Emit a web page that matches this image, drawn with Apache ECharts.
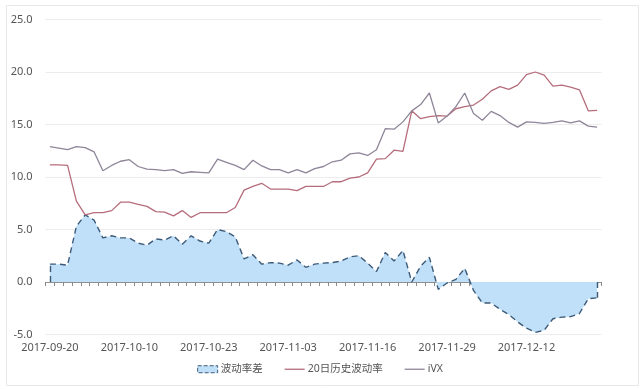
<!DOCTYPE html>
<html>
<head>
<meta charset="utf-8">
<script src="https://cdn.jsdelivr.net/npm/echarts@6/dist/echarts.min.js"></script>
<style>
html,body{margin:0;padding:0;background:#fff;}
#c{width:640px;height:389px;}
</style>
</head>
<body>
<div id="c"></div>
<script>
var dates = ['2017-09-20','2017-09-21','2017-09-22','2017-09-25','2017-09-26','2017-09-27','2017-09-28','2017-09-29',
'2017-10-09','2017-10-10','2017-10-11','2017-10-12','2017-10-13','2017-10-16','2017-10-17','2017-10-18','2017-10-19','2017-10-20','2017-10-23','2017-10-24','2017-10-25','2017-10-26','2017-10-27','2017-10-30','2017-10-31',
'2017-11-01','2017-11-02','2017-11-03','2017-11-06','2017-11-07','2017-11-08','2017-11-09','2017-11-10','2017-11-13','2017-11-14','2017-11-15','2017-11-16','2017-11-17','2017-11-20','2017-11-21','2017-11-22','2017-11-23','2017-11-24','2017-11-27','2017-11-28','2017-11-29','2017-11-30',
'2017-12-01','2017-12-04','2017-12-05','2017-12-06','2017-12-07','2017-12-08','2017-12-11','2017-12-12','2017-12-13','2017-12-14','2017-12-15','2017-12-18','2017-12-19','2017-12-20','2017-12-21','2017-12-22'];

var spreadVals = [1.7,1.7,1.6,5.3,6.4,5.9,4.2,4.4,4.2,4.2,3.7,3.5,4.1,4.0,4.4,3.6,4.4,3.9,3.7,5.0,4.8,4.3,2.2,2.6,1.7,1.85,1.8,1.6,2.1,1.4,1.7,1.8,1.85,2.0,2.4,2.5,1.8,1.0,2.8,2.0,3.0,0.0,1.5,2.35,-0.7,-0.1,0.25,1.3,-0.8,-2.0,-2.0,-2.6,-3.1,-3.8,-4.4,-4.8,-4.6,-3.5,-3.35,-3.3,-3.0,-1.6,-1.5];

var hv20Vals = [11.15,11.15,11.1,7.7,6.4,6.6,6.6,6.8,7.6,7.6,7.4,7.2,6.7,6.65,6.3,6.8,6.15,6.6,6.6,6.6,6.6,7.1,8.75,9.1,9.4,8.85,8.85,8.85,8.7,9.1,9.1,9.1,9.55,9.55,9.9,10.0,10.4,11.7,11.75,12.55,12.45,16.3,15.55,15.75,15.85,15.8,16.5,16.7,16.85,17.4,18.2,18.6,18.35,18.75,19.75,20.0,19.7,18.65,18.75,18.55,18.3,16.3,16.35];

var ivxVals = [12.9,12.75,12.6,12.9,12.8,12.4,10.6,11.1,11.5,11.65,11.0,10.75,10.7,10.6,10.7,10.35,10.5,10.45,10.4,11.7,11.4,11.1,10.7,11.6,11.05,10.7,10.7,10.4,10.7,10.4,10.8,11.0,11.45,11.6,12.2,12.3,12.05,12.6,14.6,14.55,15.25,16.3,16.9,18.0,15.15,15.8,16.7,18.0,16.05,15.4,16.25,15.85,15.2,14.75,15.25,15.2,15.1,15.2,15.35,15.15,15.35,14.85,14.75];

var seriesNames = ['波动率差','20日历史波动率','iVX'];
var yMin = -5, yMax = 25, yStep = 5;

var FONT = '"Noto Sans","Liberation Sans",Arial,"Noto Sans CJK SC",sans-serif';
var dashColor = '#3d5a78';
var areaColor = '#bfe0f8';
var hvColor = '#b56d7b';
var ivxColor = '#8e8598';
var lineIcon = 'path://M0,0H20V1.3H0Z';

var chart = echarts.init(document.getElementById('c'), null, {renderer:'canvas'});
var last = dates.length - 1;

chart.setOption({
  animation: false,
  backgroundColor: '#ffffff',
  graphic: [{
    type: 'rect', left: 4, top: 3, silent: true,
    shape: {width: 632, height: 380},
    style: {fill: 'none', stroke: '#e8e8e8', lineWidth: 1}
  }],
  grid: {left: 45.5, right: 38.5, top: 19.5, bottom: 54.5, containLabel: false},
  legend: {
    left: 'center', top: 359,
    itemWidth: 20, itemHeight: 7, itemGap: 22,
    textStyle: {fontSize: 10.5, color: '#555', fontFamily: FONT, padding: [0,0,0,-2]},
    data: [
      {name: seriesNames[0], icon: 'rect', itemStyle: {color: areaColor, borderColor: dashColor, borderWidth: 1, borderType: 'dashed'}},
      {name: seriesNames[1], icon: lineIcon, itemStyle: {color: hvColor}},
      {name: seriesNames[2], icon: lineIcon, itemStyle: {color: ivxColor}}
    ]
  },
  xAxis: {
    type: 'category', data: dates, boundaryGap: true,
    axisLine: {onZero: true, lineStyle: {color: '#909090', width: 1}},
    axisTick: {show: true, interval: 0, length: 4, lineStyle: {color: '#888'}},
    axisLabel: {interval: 8, color: '#555', fontSize: 11, fontFamily: FONT, margin: 8},
    splitLine: {show: false}
  },
  yAxis: {
    type: 'value', min: yMin, max: yMax, interval: yStep,
    axisLine: {show: false}, axisTick: {show: false},
    axisLabel: {color: '#555', fontSize: 11, fontFamily: FONT, margin: 13,
      formatter: function (v) { return v.toFixed(1); }},
    splitLine: {lineStyle: {color: '#ececec', width: 1}}
  },
  series: [
    {
      name: seriesNames[0], type: 'line', data: spreadVals, symbol: 'none',
      lineStyle: {color: dashColor, width: 1.4, type: [6, 4]},
      itemStyle: {color: areaColor},
      areaStyle: {color: areaColor, opacity: 1, origin: 0},
      z: 1,
      markLine: {
        silent: true, symbol: 'none', label: {show: false},
        lineStyle: {color: dashColor, width: 1.4, type: [6, 4]},
        data: [
          [{coord: [dates[0], 0]}, {coord: [dates[0], spreadVals[0]]}],
          [{coord: [dates[last], 0]}, {coord: [dates[last], spreadVals[last]]}]
        ]
      }
    },
    {
      name: seriesNames[1], type: 'line', data: hv20Vals, symbol: 'none',
      lineStyle: {color: hvColor, width: 1.3}, itemStyle: {color: hvColor}, z: 3
    },
    {
      name: seriesNames[2], type: 'line', data: ivxVals, symbol: 'none',
      lineStyle: {color: ivxColor, width: 1.3}, itemStyle: {color: ivxColor}, z: 3
    }
  ]
});
</script>
</body>
</html>
